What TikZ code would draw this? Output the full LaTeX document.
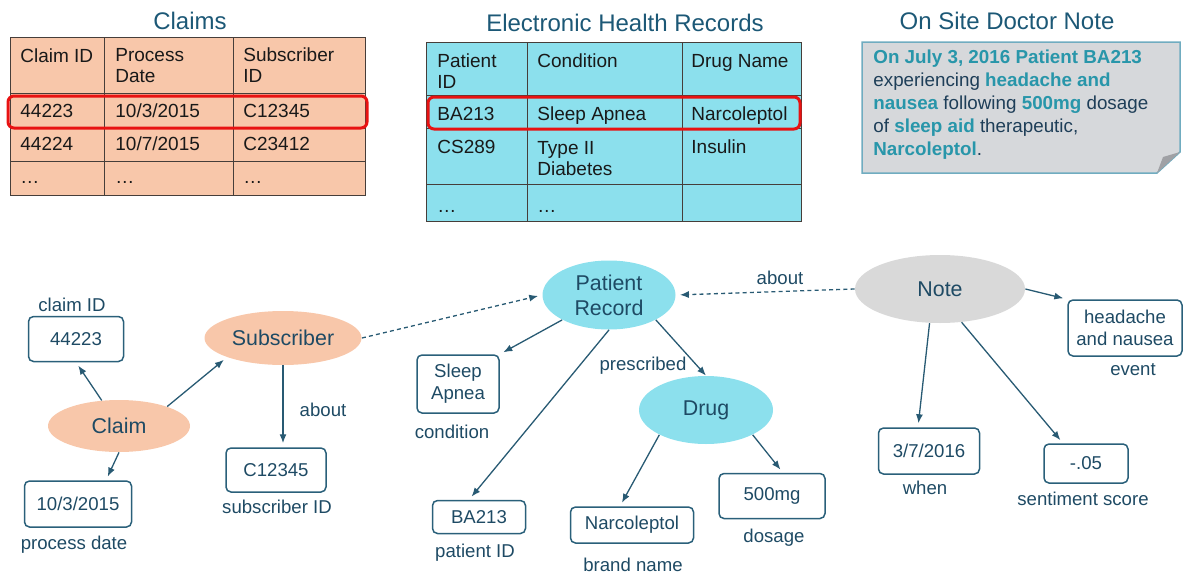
\documentclass[tikz,border=0pt]{standalone}
\usepackage{fontspec}
\setmainfont{Liberation Sans}
\usetikzlibrary{shapes.geometric,positioning,arrows.meta}

\definecolor{peach}{RGB}{248,199,170}
\definecolor{aqua}{RGB}{140,224,237}
\definecolor{gridcol}{RGB}{70,62,58}
\definecolor{celltext}{RGB}{25,25,25}
\definecolor{titlecol}{RGB}{28,88,118}
\definecolor{hired}{RGB}{232,18,18}
\definecolor{notefill}{RGB}{214,216,219}
\definecolor{noteedge}{RGB}{112,172,192}
\definecolor{foldcol}{RGB}{160,161,165}
\definecolor{notehl}{RGB}{40,150,170}
\definecolor{notedark}{RGB}{30,62,88}
\definecolor{notegrey}{RGB}{217,217,217}
\definecolor{graphtext}{RGB}{30,74,100}
\definecolor{boxcol}{RGB}{42,96,122}
\definecolor{linkcol}{RGB}{40,90,115}

\newcommand\tabfont{\fontsize{9.5pt}{10.5pt}\selectfont}
\newcommand\titlefont{\fontsize{12pt}{14pt}\selectfont}
\newcommand\entfont{\fontsize{10.7pt}{12.5pt}\selectfont}
\newcommand\valfont{\fontsize{9.3pt}{11pt}\selectfont}
\newcommand\notefont{\fontsize{9.4pt}{11.5pt}\selectfont}
\newcommand\notehilite[1]{\textbf{\color{notehl}#1}}

\begin{document}
\begin{tikzpicture}[x=0.5pt, y=-0.5pt,
  title/.style={font=\titlefont, text=titlecol, anchor=base, inner sep=0pt},
  cell/.style={font=\tabfont, text=celltext, anchor=base west, inner sep=0pt, align=left},
  gridline/.style={draw=gridcol, line width=0.5pt},
  hilite/.style={draw=hired, line width=1.5pt, rounded corners=3pt},
  ent/.style={ellipse, inner sep=0pt, font=\entfont, text=graphtext, align=center},
  val/.style={draw=boxcol, line width=0.75pt, rounded corners=2.5pt, font=\valfont, text=graphtext, align=center, inner sep=0pt},
  lbl/.style={font=\valfont, text=graphtext, inner sep=0pt},
  link/.style={draw=linkcol, line width=0.65pt, -{Latex[length=4.5pt,width=3.5pt]}, shorten >=2pt},
  ref/.style={link, dash pattern=on 2pt off 1.6pt}]
\useasboundingbox (0,0) rectangle (1184,573);

% tables (multi-line cells sit on their last baseline)
\node[title] (t1) at (190,30) {Claims};
\fill[peach] (10,37) rectangle (365,195);
\draw[gridline] (10,37) rectangle (365,195);
\draw[gridline] (104,37) -- (104,195);
\draw[gridline] (233,37) -- (233,195);
\draw[gridline] (10,93) -- (365,93);
\draw[gridline] (10,128) -- (365,128);
\draw[gridline] (10,161) -- (365,161);
\node[cell] (h1) at (20,62) {Claim ID};
\node[cell] (h2) at (115,83) {Process\\Date};
\node[cell] (h3) at (243,83) {Subscriber\\ID};
\node[cell] (a1) at (20,117) {44223};
\node[cell] (a2) at (115,117) {10/3/2015};
\node[cell] (a3) at (243,117) {C12345};
\node[cell] (b1) at (20,150) {44224};
\node[cell] (b2) at (115,150) {10/7/2015};
\node[cell] (b3) at (243,150) {C23412};
\node[cell] (d1) at (20,183) {…};
\node[cell] (d2) at (115,183) {…};
\node[cell] (d3) at (243,183) {…};
\draw[hilite] (8,96) rectangle (367,128);

\node[title] (t2) at (625,32) {Electronic Health Records};
\fill[aqua] (426,42) rectangle (801,221);
\draw[gridline] (426,42) rectangle (801,221);
\draw[gridline] (527,42) -- (527,221);
\draw[gridline] (682,42) -- (682,221);
\draw[gridline] (426,95) -- (801,95);
\draw[gridline] (426,128) -- (801,128);
\draw[gridline] (426,184) -- (801,184);
\node[cell] (eh1) at (437,88) {Patient\\ID};
\node[cell] (eh2) at (537,67) {Condition};
\node[cell] (eh3) at (691,67) {Drug Name};
\node[cell] (ea1) at (437,120) {BA213};
\node[cell] (ea2) at (537,120) {Sleep Apnea};
\node[cell] (ea3) at (691,120) {Narcoleptol};
\node[cell] (eb1) at (437,153) {CS289};
\node[cell] (eb2) at (537,175) {Type II\\Diabetes};
\node[cell] (eb3) at (691,153) {Insulin};
\node[cell] (ed1) at (437,212) {…};
\node[cell] (ed2) at (537,212) {…};
\draw[hilite] (428,97) rectangle (800,129);

% doctor note
\node[title] (t3) at (1007,30) {On Site Doctor Note};
\filldraw[fill=notefill, draw=noteedge, line width=0.75pt] (862,42) -- (1180,42) -- (1180,152) -- (1157,173) -- (862,173) -- cycle;
\fill[foldcol] (1157,173) -- (1163,157) -- (1180,152) -- cycle;
\node[font=\notefont, text=notedark, anchor=base west, align=left, inner sep=0pt] (notetxt) at (873,155)
  {\notehilite{On July 3, 2016 Patient BA213}\\experiencing \notehilite{headache and}\\\notehilite{nausea} following \notehilite{500mg} dosage\\of \notehilite{sleep aid} therapeutic,\\\notehilite{Narcoleptol}.};

% graph
\node[ent, fill=peach, minimum width=71pt, minimum height=26pt] (claim) at (119,426) {Claim};
\node[ent, fill=peach, minimum width=78.5pt, minimum height=27pt] (sub) at (283,338) {Subscriber};
\node[ent, fill=aqua, minimum width=66.5pt, minimum height=34.5pt] (prec) at (609,295) {Patient\\Record};
\node[ent, fill=aqua, minimum width=67pt, minimum height=34pt] (drug) at (706,410) {Drug};
\node[ent, fill=notegrey, minimum width=85pt, minimum height=34pt] (note) at (940,289) {Note};

\node[val, minimum width=47.5pt, minimum height=22.5pt] (cid) at (76,339) {44223};
\node[val, minimum width=53.5pt, minimum height=23pt] (pdate) at (78,504) {10/3/2015};
\node[val, minimum width=50pt, minimum height=22pt] (subid) at (276,470) {C12345};
\node[val, minimum width=41pt, minimum height=29pt] (cond) at (458,384) {Sleep\\Apnea};
\node[val, minimum width=46.5pt, minimum height=16.5pt] (pid) at (479,517) {BA213};
\node[val, minimum width=61.5pt, minimum height=18pt] (brand) at (632,525) {Narcoleptol};
\node[val, minimum width=53pt, minimum height=22.5pt] (dose) at (772,496) {500mg};
\node[val, minimum width=57pt, minimum height=28pt] (event) at (1125,328) {headache\\and nausea};
\node[val, minimum width=50.5pt, minimum height=23pt] (when) at (929,451) {3/7/2016};
\node[val, minimum width=42pt, minimum height=19.5pt] (score) at (1086,463.5) {-.05};

\node[lbl] (lcid) at (72,305) {claim ID};
\node[lbl] (lpdate) at (74,545) {process date};
\node[lbl] (lsubid) at (277,507) {subscriber ID};
\node[lbl] (labout1) at (323,410) {about};
\node[lbl] (lcond) at (452,432) {condition};
\node[lbl] (lpid) at (475,553) {patient ID};
\node[lbl] (lbrand) at (633,565) {brand name};
\node[lbl] (ldose) at (774,538) {dosage};
\node[lbl] (lpresc) at (643,366) {prescribed};
\node[lbl] (labout2) at (780,278) {about};
\node[lbl] (levent) at (1133,370) {event};
\node[lbl] (lwhen) at (925,488) {when};
\node[lbl] (lscore) at (1083,499) {sentiment score};

\draw[link] (claim.124) -- (cid.south);
\draw[link] (claim.south) -- ([xshift=14pt]pdate.north);
\draw[link] (claim.22) -- (sub.199);
\draw[link] (sub.south) -- (sub.south |- subid.north);
\draw[ref] (sub.east) -- (prec.west);
\draw[ref] (note.west) -- (prec.east);
\draw[link] (prec.208) -- (cond.north east);
\draw[link] (prec.south) -- ([xshift=-5pt]pid.north);
\draw[link, shorten >=0pt] (prec.-28) -- (drug.north);
\draw[link] (drug.208) -- ([xshift=-6pt]brand.north);
\draw[link] (drug.-28) -- ([xshift=5.5pt]dose.north);
\draw[link] (note.east) -- (event.north west);
\draw[link] (note.-107) -- ([xshift=-5.5pt]when.north);
\draw[link] (note.-57) -- ([xshift=-11.5pt]score.north);
\end{tikzpicture}
\end{document}
